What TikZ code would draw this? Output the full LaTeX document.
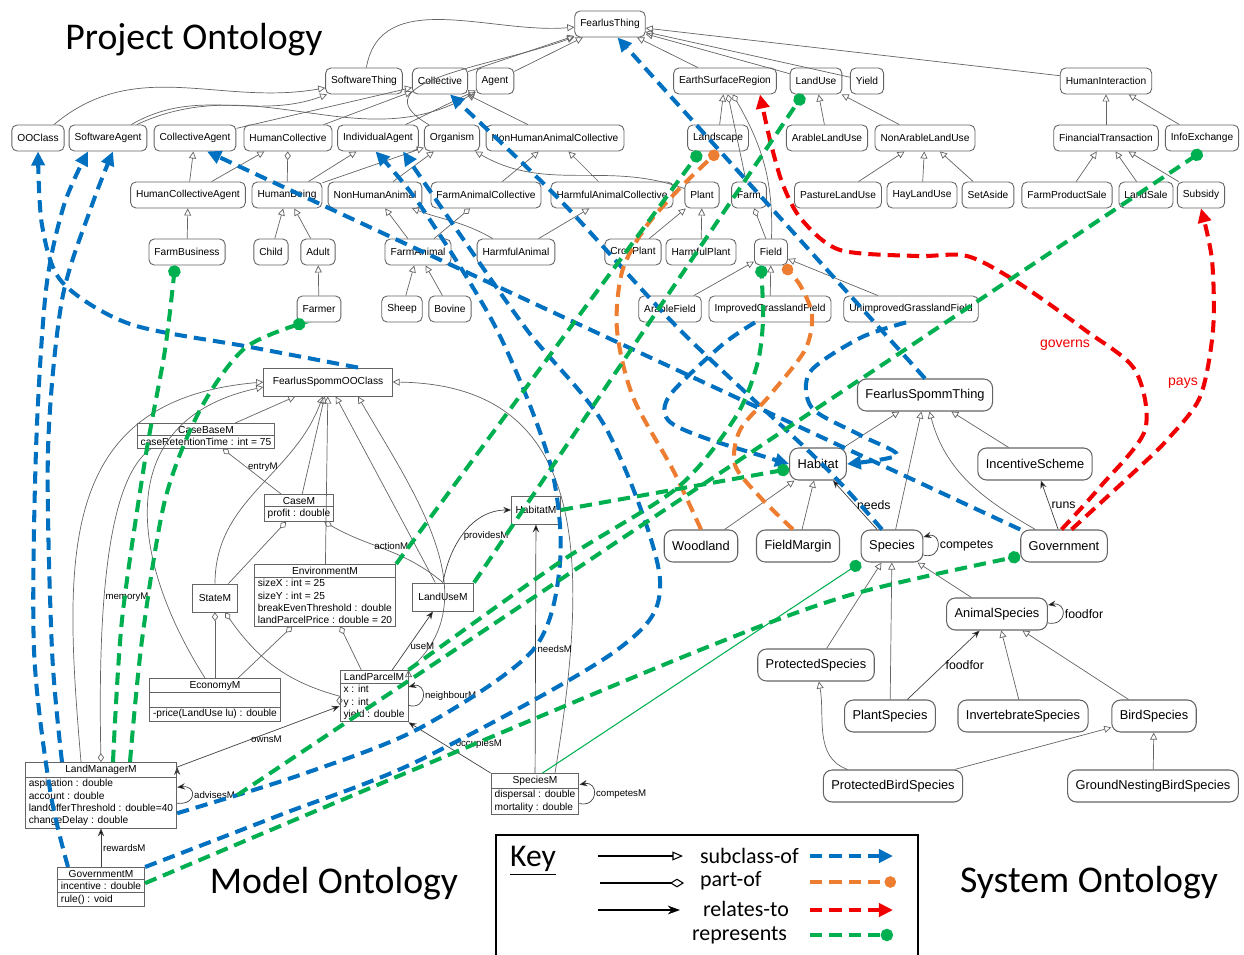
\documentclass[tikz,border=0pt]{standalone}
\usepackage{fontspec}
\setmainfont{Liberation Sans}
\newfontfamily\calfont{Carlito}
\usetikzlibrary{arrows.meta,shapes.multipart}

\definecolor{isablue}{RGB}{0,112,192}
\definecolor{partorange}{RGB}{237,125,49}
\definecolor{relred}{RGB}{240,0,0}
\definecolor{repgreen}{RGB}{0,176,80}
\definecolor{linegrey}{RGB}{100,100,100}

\begin{document}
\begin{tikzpicture}[x=0.02cm,y=-0.02cm,
   every loop/.style={looseness=1,min distance=4mm},
   cls/.style={draw=linegrey,line width=0.5pt,rounded corners=3pt,inner xsep=0.11cm,inner ysep=1pt,minimum height=0.52cm,font=\fontsize{5.8}{7}\selectfont},
   sys/.style={draw=linegrey,line width=0.6pt,rounded corners=5pt,inner xsep=0.16cm,inner ysep=1pt,minimum height=0.64cm,font=\fontsize{7.3}{8.5}\selectfont},
   uml/.style={draw=linegrey,line width=0.5pt,rectangle split,rectangle split parts=2,rectangle split part align={center,left,left},anchor=north,align=left,inner xsep=2pt,inner ysep=1.2pt,font=\fontsize{5.8}{6.9}\selectfont},
   umlbox/.style={draw=linegrey,line width=0.5pt,minimum height=0.56cm,inner xsep=0.18cm,font=\fontsize{5.8}{6.9}\selectfont},
   sub/.style={draw=linegrey,line width=0.4pt,-{Triangle[open,length=4pt,width=4pt]}},
   partof/.style={draw=linegrey,line width=0.4pt,-{Diamond[open,length=5pt,width=3.6pt]}},
   rel/.style={draw=black!75,line width=0.4pt,-{Stealth[length=4.5pt,width=3.6pt]}},
   lbl/.style={font=\fontsize{5.5}{6.5}\selectfont,inner sep=1pt},
   slbl/.style={font=\fontsize{7}{8}\selectfont,inner sep=1pt},
   bigdash/.style={line width=2.3pt,dash pattern=on 7pt off 4pt},
   isa/.style={bigdash,draw=isablue,-{Triangle[length=8pt,width=7.5pt]}},
   partlink/.style={bigdash,draw=partorange,-{Circle[length=6.5pt]}},
   relates/.style={bigdash,draw=relred,-{Triangle[length=8pt,width=7.5pt]}},
   represents/.style={bigdash,draw=repgreen,-{Circle[length=7pt]}},
   repthin/.style={draw=repgreen,line width=0.6pt,-{Circle[length=7pt]}},
   ontotitle/.style={font=\calfont\fontsize{21.5}{25}\selectfont},
   keytxt/.style={font=\calfont\fontsize{12.5}{14}\selectfont,inner sep=1pt},
   redlbl/.style={text=relred,font=\fontsize{8}{9}\selectfont}]
\useasboundingbox (0,0) rectangle (1244,954);

% project ontology
\node[ontotitle] (projtitle) at (194,40) {Project Ontology};
\node[cls] (fthing) at (610,24) {FearlusThing};
\node[cls] (swthing) at (364,81) {SoftwareThing};
\node[cls] (coll) at (440,81) {Collective};
\node[cls] (agent) at (495,81) {Agent};
\node[cls] (esr) at (725,81) {EarthSurfaceRegion};
\node[cls] (landuse) at (816,81) {LandUse};
\node[cls] (yield) at (867,81) {Yield};
\node[cls] (hinter) at (1106,81) {HumanInteraction};

\node[cls] (ooclass) at (38,138) {OOClass};
\node[cls] (swagent) at (108,138) {SoftwareAgent};
\node[cls] (collagent) at (195,138) {CollectiveAgent};
\node[cls] (hcoll) at (288,138) {HumanCollective};
\node[cls] (indagent) at (378,138) {IndividualAgent};
\node[cls] (organism) at (452,138) {Organism};
\node[cls] (nhacoll) at (555,138) {NonHumanAnimalCollective};
\node[cls] (landscape) at (718,138) {Landscape};
\node[cls] (arablelu) at (827,138) {ArableLandUse};
\node[cls] (nonarablelu) at (925,138) {NonArableLandUse};
\node[cls] (fintrans) at (1106,138) {FinancialTransaction};
\node[cls] (infoex) at (1202,138) {InfoExchange};

\node[cls] (hcagent) at (188,195) {HumanCollectiveAgent};
\node[cls] (hbeing) at (287,195) {HumanBeing};
\node[cls] (nhanimal) at (375,195) {NonHumanAnimal};
\node[cls] (facoll) at (486,195) {FarmAnimalCollective};
\node[cls] (hacoll) at (612,195) {HarmfulAnimalCollective};
\node[cls] (plant) at (702,195) {Plant};
\node[cls] (farm) at (749,195) {Farm};
\node[cls] (pasturelu) at (838,195) {PastureLandUse};
\node[cls] (haylu) at (922,195) {HayLandUse};
\node[cls] (setaside) at (988,195) {SetAside};
\node[cls] (fpsale) at (1067,195) {FarmProductSale};
\node[cls] (landsale) at (1146,195) {LandSale};
\node[cls] (subsidy) at (1201,195) {Subsidy};

\node[cls] (fbusiness) at (187,252) {FarmBusiness};
\node[cls] (child) at (271,252) {Child};
\node[cls] (adult) at (318,252) {Adult};
\node[cls] (fanimal) at (418,252) {FarmAnimal};
\node[cls] (hanimal) at (516,252) {HarmfulAnimal};
\node[cls] (cropplant) at (633,252) {CropPlant};
\node[cls] (hplant) at (701,252) {HarmfulPlant};
\node[cls] (field) at (771,252) {Field};

\node[cls] (farmer) at (319,309) {Farmer};
\node[cls] (sheep) at (402,309) {Sheep};
\node[cls] (bovine) at (450,309) {Bovine};
\node[cls] (arablefield) at (670,309) {ArableField};
\node[cls] (igfield) at (770,309) {ImprovedGrasslandField};
\node[cls] (ugfield) at (911,309) {UnimprovedGrasslandField};

\path[sub]
  (swthing) edge[out=80,in=185] (fthing)
  (coll) edge (fthing)
  (agent) edge (fthing)
  (esr) edge (fthing)
  (landuse) edge (fthing)
  (yield) edge (fthing)
  (hinter) edge (fthing)
  (organism) edge[out=150,in=200,looseness=1.3] (fthing)
  (ooclass) edge[out=40,in=190] (swthing)
  (swagent) edge[out=30,in=200] (swthing)
  (swagent) edge[out=25,in=210] (agent)
  (collagent) edge (coll)
  (hcoll) edge (coll)
  (indagent) edge (agent)
  (nhacoll) edge (coll)
  (hcagent) edge (collagent)
  (hcagent) edge (hcoll)
  (hbeing) edge (indagent)
  (hbeing) edge (organism)
  (nhanimal) edge (organism)
  (facoll) edge (nhacoll)
  (hacoll) edge (nhacoll)
  (plant) edge[out=160,in=-30] (organism)
  (landscape) edge (esr)
  (arablelu) edge (landuse)
  (nonarablelu) edge (landuse)
  (pasturelu) edge (nonarablelu)
  (haylu) edge (nonarablelu)
  (setaside) edge (nonarablelu)
  (fintrans) edge (hinter)
  (infoex) edge (hinter)
  (fpsale) edge (fintrans)
  (landsale) edge (fintrans)
  (subsidy) edge (fintrans)
  (fbusiness) edge (hcagent)
  (child) edge (hbeing)
  (adult) edge (hbeing)
  (fanimal) edge (nhanimal)
  (hanimal) edge[out=150,in=-20] (nhanimal)
  (hanimal) edge (hacoll)
  (cropplant) edge (plant)
  (hplant) edge (plant)
  (farmer) edge (adult)
  (sheep) edge (fanimal)
  (bovine) edge (fanimal)
  (arablefield) edge (field)
  (igfield) edge (field)
  (ugfield) edge (field);
\path[partof]
  (hbeing) edge (hcoll)
  (fanimal) edge (facoll)
  (farm) edge (esr)
  (field) edge (farm)
  (field) edge[out=88,in=-60] (esr);

% model ontology
\node[ontotitle] (modeltitle) at (334,884) {Model Ontology};
\node[umlbox] (fsooc) at (328,382) {FearlusSpommOOClass};
\node[uml] (casebase) at (206,423) {CaseBaseM\nodepart{two}caseRetentionTime : int = 75};
\node[uml] (casem) at (299,494) {CaseM\nodepart{two}profit : double};
\node[uml] (envm) at (325,564) {EnvironmentM\nodepart{two}sizeX : int = 25\\sizeY : int = 25\\breakEvenThreshold : double\\landParcelPrice : double = 20};
\node[umlbox,inner xsep=0.12cm] (statem) at (215,598) {StateM};
\node[umlbox,inner xsep=0.12cm] (landusem) at (443,597) {LandUseM};
\node[umlbox,inner xsep=0.08cm] (habitatm) at (536,510) {HabitatM};
\node[uml,rectangle split parts=3] (econm) at (215,678) {EconomyM\nodepart{two}\nodepart{three}-price(LandUse lu) : double};
\node[uml] (landparcelm) at (374,670) {LandParcelM\nodepart{two}x : int\\y : int\\yield : double};
\node[uml] (lmanager) at (101,762) {LandManagerM\nodepart{two}aspiration : double\\account : double\\landOfferThreshold : double=40\\changeDelay : double};
\node[uml,rectangle split parts=3] (govm) at (101,867) {GovernmentM\nodepart{two}incentive : double\nodepart{three}rule() : void};
\node[uml] (speciesm) at (535,773) {SpeciesM\nodepart{two}dispersal : double\\mortality : double};

\path[sub]
  (casebase) edge (fsooc)
  (casem) edge (fsooc)
  (envm) edge (fsooc)
  (statem) edge[out=90,in=-110] (fsooc)
  (landusem) edge (fsooc)
  (landparcelm.north east) edge[out=40,in=-60] ([xshift=0.6cm]fsooc.south);
\draw[sub] ([xshift=-0.4cm]lmanager.north) .. controls (64,560) and (55,400) .. (fsooc.west);
\draw[sub] ([xshift=-0.2cm]econm.north) .. controls (130,560) and (110,420) .. ([yshift=-0.1cm]fsooc.west);
\draw[sub] ([xshift=0.4cm]speciesm.north) .. controls (590,560) and (590,385) .. (fsooc.east);
\path[partof]
  (casem) edge node[lbl,right,pos=0.6] {entryM} (casebase)
  (statem) edge (casem)
  (landusem.north) edge[out=140,in=-30] node[lbl,above,pos=0.45] {actionM} ([xshift=-0.2cm]casem.south east)
  (econm) edge (statem)
  (econm) edge (envm)
  (landparcelm) edge (envm)
  (landparcelm.west) edge[out=165,in=-55] (statem);
\draw[partof] ([xshift=-1.1cm]casebase.south) .. controls (105,480) and (98,620) .. (lmanager.north);
\node[lbl] (memlbl) at (127,597) {memoryM};
\path[rel]
  (landparcelm) edge node[lbl,right,pos=0.4] {useM} (landusem)
  (landusem.north) edge[out=80,in=180] node[lbl,right,pos=0.45] {providesM} (habitatm.west)
  (speciesm) edge node[lbl,right,pos=0.5] {needsM} (habitatm)
  (speciesm.north west) edge node[lbl,above right,pos=0.45] {occupiesM} (landparcelm.south east)
  (landparcelm) edge[out=-15,in=15,loop] node[lbl,right] {neighbourM} ()
  ([yshift=-0.1cm]lmanager.north east) edge node[lbl,below,pos=0.55] {ownsM} ([yshift=-0.2cm]landparcelm.west)
  (lmanager) edge[out=-6,in=6,loop] node[lbl,right] (advises) {advisesM} ()
  (govm) edge node[lbl,right] {rewardsM} (lmanager)
  (speciesm) edge[out=-12,in=12,loop] node[lbl,right] {competesM} ();

% system ontology
\node[ontotitle] (systitle) at (1089,883) {System Ontology};
\node[sys] (fsthing) at (925,395) {FearlusSpommThing};
\node[sys] (habitat) at (818,464) {Habitat};
\node[sys] (incentive) at (1035,464) {IncentiveScheme};
\node[sys] (woodland) at (701,546) {Woodland};
\node[sys] (fieldmargin) at (798,546) {FieldMargin};
\node[sys] (species) at (892,546) {Species};
\node[sys] (government) at (1064,546) {Government};
\node[sys] (animalsp) at (997,614) {AnimalSpecies};
\node[sys] (protectedsp) at (816,665) {ProtectedSpecies};
\node[sys] (plantsp) at (890,716) {PlantSpecies};
\node[sys] (invertsp) at (1023,716) {InvertebrateSpecies};
\node[sys] (birdsp) at (1154,716) {BirdSpecies};
\node[sys] (protbirdsp) at (893,786) {ProtectedBirdSpecies};
\node[sys] (groundsp) at (1153,786) {GroundNestingBirdSpecies};

\path[sub]
  (habitat) edge (fsthing)
  (species) edge (fsthing)
  (government) edge[out=150,in=-75] (fsthing)
  (incentive) edge (fsthing)
  (woodland) edge (habitat)
  (fieldmargin) edge (habitat)
  (animalsp) edge (species)
  (protectedsp) edge (species)
  (plantsp) edge (species)
  (invertsp) edge (animalsp)
  (birdsp) edge (animalsp)
  (protbirdsp) edge[out=160,in=-80] (protectedsp)
  (protbirdsp) edge (birdsp)
  (groundsp) edge (birdsp);
\path[rel]
  (species) edge node[slbl,right] {needs} (habitat)
  (species) edge[out=-16,in=16,loop] node[slbl,right] {competes} ()
  (government) edge node[slbl,right] {runs} (incentive)
  (animalsp) edge[out=-10,in=10,loop] node[slbl,right] {foodfor} ()
  (plantsp) edge node[slbl,right] {foodfor} (animalsp);

% subclass-of links
\draw[isa] plot[smooth] coordinates {([xshift=0.6cm]fsooc.north) (250,347) (130,324) (62,282) (42,225) (ooclass.south)};
\draw[isa] plot[smooth] coordinates {([xshift=-0.66cm]govm.north) (50,790) (34,650) (36,450) (46,290) (64,205) ([xshift=-0.4cm]swagent.south)};
\draw[isa] plot[smooth] coordinates {([xshift=-0.78cm]lmanager.north) (52,650) (48,450) (62,300) (92,205) ([xshift=0.1cm]swagent.south)};
\draw[isa] plot[smooth] coordinates {([yshift=-0.36cm]lmanager.east) (300,775) (420,728) (533,650) (560,563) (550,463) (497,330) (420,205) ([xshift=-0.05cm]indagent.south)};
\draw[isa] plot[smooth] coordinates {(govm.north east) (280,815) (420,760) (617,650) (660,580) (607,430) (527,330) (450,220) ([xshift=0.5cm]indagent.south)};
\draw[isa] (government.north west) -- ([xshift=0.24cm]collagent.south);
\draw[isa] plot[smooth] coordinates {([xshift=-0.2cm]species.north) (820,462) (680,330) (560,200) ([xshift=0.2cm]coll.south)};
\draw[isa] (fsthing.north) -- ([xshift=0.15cm]fthing.south);
\draw[isa] plot[smooth] coordinates {([xshift=-0.3cm]igfield.south) (722,345) (670,395) (668,420) (705,438) (habitat.west)};
\draw[isa] plot[smooth] coordinates {([xshift=-0.1cm]ugfield.south) (860,338) (810,372) (812,408) (860,435) (897,455) (habitat.east)};

% part-of links
\draw[partlink] plot[smooth] coordinates {(woodland.north) (673,470) (633,397) (617,330) (622,272) (645,228) (680,188) (landscape.south)};
\draw[partlink] plot[smooth] coordinates {([xshift=-0.1cm]fieldmargin.north) (760,497) (735,465) (740,430) (770,395) (805,350) (812,315) (800,285) ([xshift=0.25cm]field.south)};

% relates-to links
\draw[relates] plot[smooth] coordinates {([xshift=-0.05cm]government.north) (1100,487) (1145,430) (1135,370) (1085,330) (1017,282) (967,256) (917,256) (840,250) (802,220) (783,185) (770,140) ([xshift=0.7cm]esr.south)};
\node[redlbl] (govlbl) at (1065,345) {governs};
\draw[relates] plot[smooth] coordinates {([xshift=0.15cm]government.north) (1133,473) (1167,440) (1200,397) (1213,330) (1212,260) (subsidy.south)};
\node[redlbl] (payslbl) at (1183,383) {pays};

% represents links
\draw[represents] plot[smooth] coordinates {([xshift=0.24cm]lmanager.north) (122,620) (145,460) (165,350) ([xshift=-0.24cm]fbusiness.south)};
\draw[represents] plot[smooth] coordinates {([xshift=0.58cm]lmanager.north) (142,640) (165,500) (200,410) (245,348) ([xshift=-0.28cm]farmer.south)};
\draw[represents] (envm.north east) -- ([xshift=-0.36cm]landscape.south);
\draw[represents] (landusem.north east) -- ([xshift=-0.26cm]landuse.south);
\draw[represents] (habitatm.east) -- ([yshift=-0.1cm]habitat.west);
\draw[represents] plot[smooth] coordinates {(landparcelm.north east) (560,562) (677,488) (735,418) (757,365) (763,320) ([xshift=-0.2cm]field.south)};
\draw[represents] (advises.east) -- (infoex.south);
\draw[represents] plot[smooth] coordinates {([yshift=0.08cm]govm.east) (420,767) (700,650) (850,595) ([yshift=-0.2cm]government.west)};
\draw[repthin] ([xshift=0.15cm]speciesm.north) -- (species.south west);

% key
\draw[line width=0.8pt] (496,960) |- (918,835) -- (918,960);
\node[keytxt,font=\calfont\fontsize{18}{20}\selectfont] (keyhead) at (533,861) {\underline{Key}};
\node[keytxt,anchor=west] (ksub) at (698,856) {subclass-of};
\node[keytxt,anchor=west] (kpart) at (698,881) {part-of};
\node[keytxt,anchor=west] (krel) at (701,909) {relates-to};
\node[keytxt,anchor=west] (krep) at (690,935) {represents};
\coordinate (ksubA) at (598,856);
\coordinate (ksubB) at (683,856);
\coordinate (kpartA) at (600,883);
\coordinate (kpartB) at (684,883);
\coordinate (krelA) at (598,910);
\coordinate (krelB) at (680,910);
\draw[line width=0.6pt,-{Triangle[open,length=6pt,width=5pt]}] (ksubA) -- (ksubB);
\draw[line width=0.6pt,-{Diamond[open,length=8pt,width=5pt]}] (kpartA) -- (kpartB);
\draw[line width=0.6pt,-{Stealth[length=7pt,width=5pt]}] (krelA) -- (krelB);
\coordinate (kisaA) at (810,856);
\coordinate (kisaB) at (893,856);
\coordinate (kpartlA) at (810,882);
\coordinate (kpartlB) at (896,882);
\coordinate (krelsA) at (810,910);
\coordinate (krelsB) at (893,910);
\coordinate (krepsA) at (810,935);
\coordinate (krepsB) at (893,935);
\draw[isa] (kisaA) -- (kisaB);
\draw[partlink] (kpartlA) -- (kpartlB);
\draw[relates] (krelsA) -- (krelsB);
\draw[represents] (krepsA) -- (krepsB);
\end{tikzpicture}
\end{document}
